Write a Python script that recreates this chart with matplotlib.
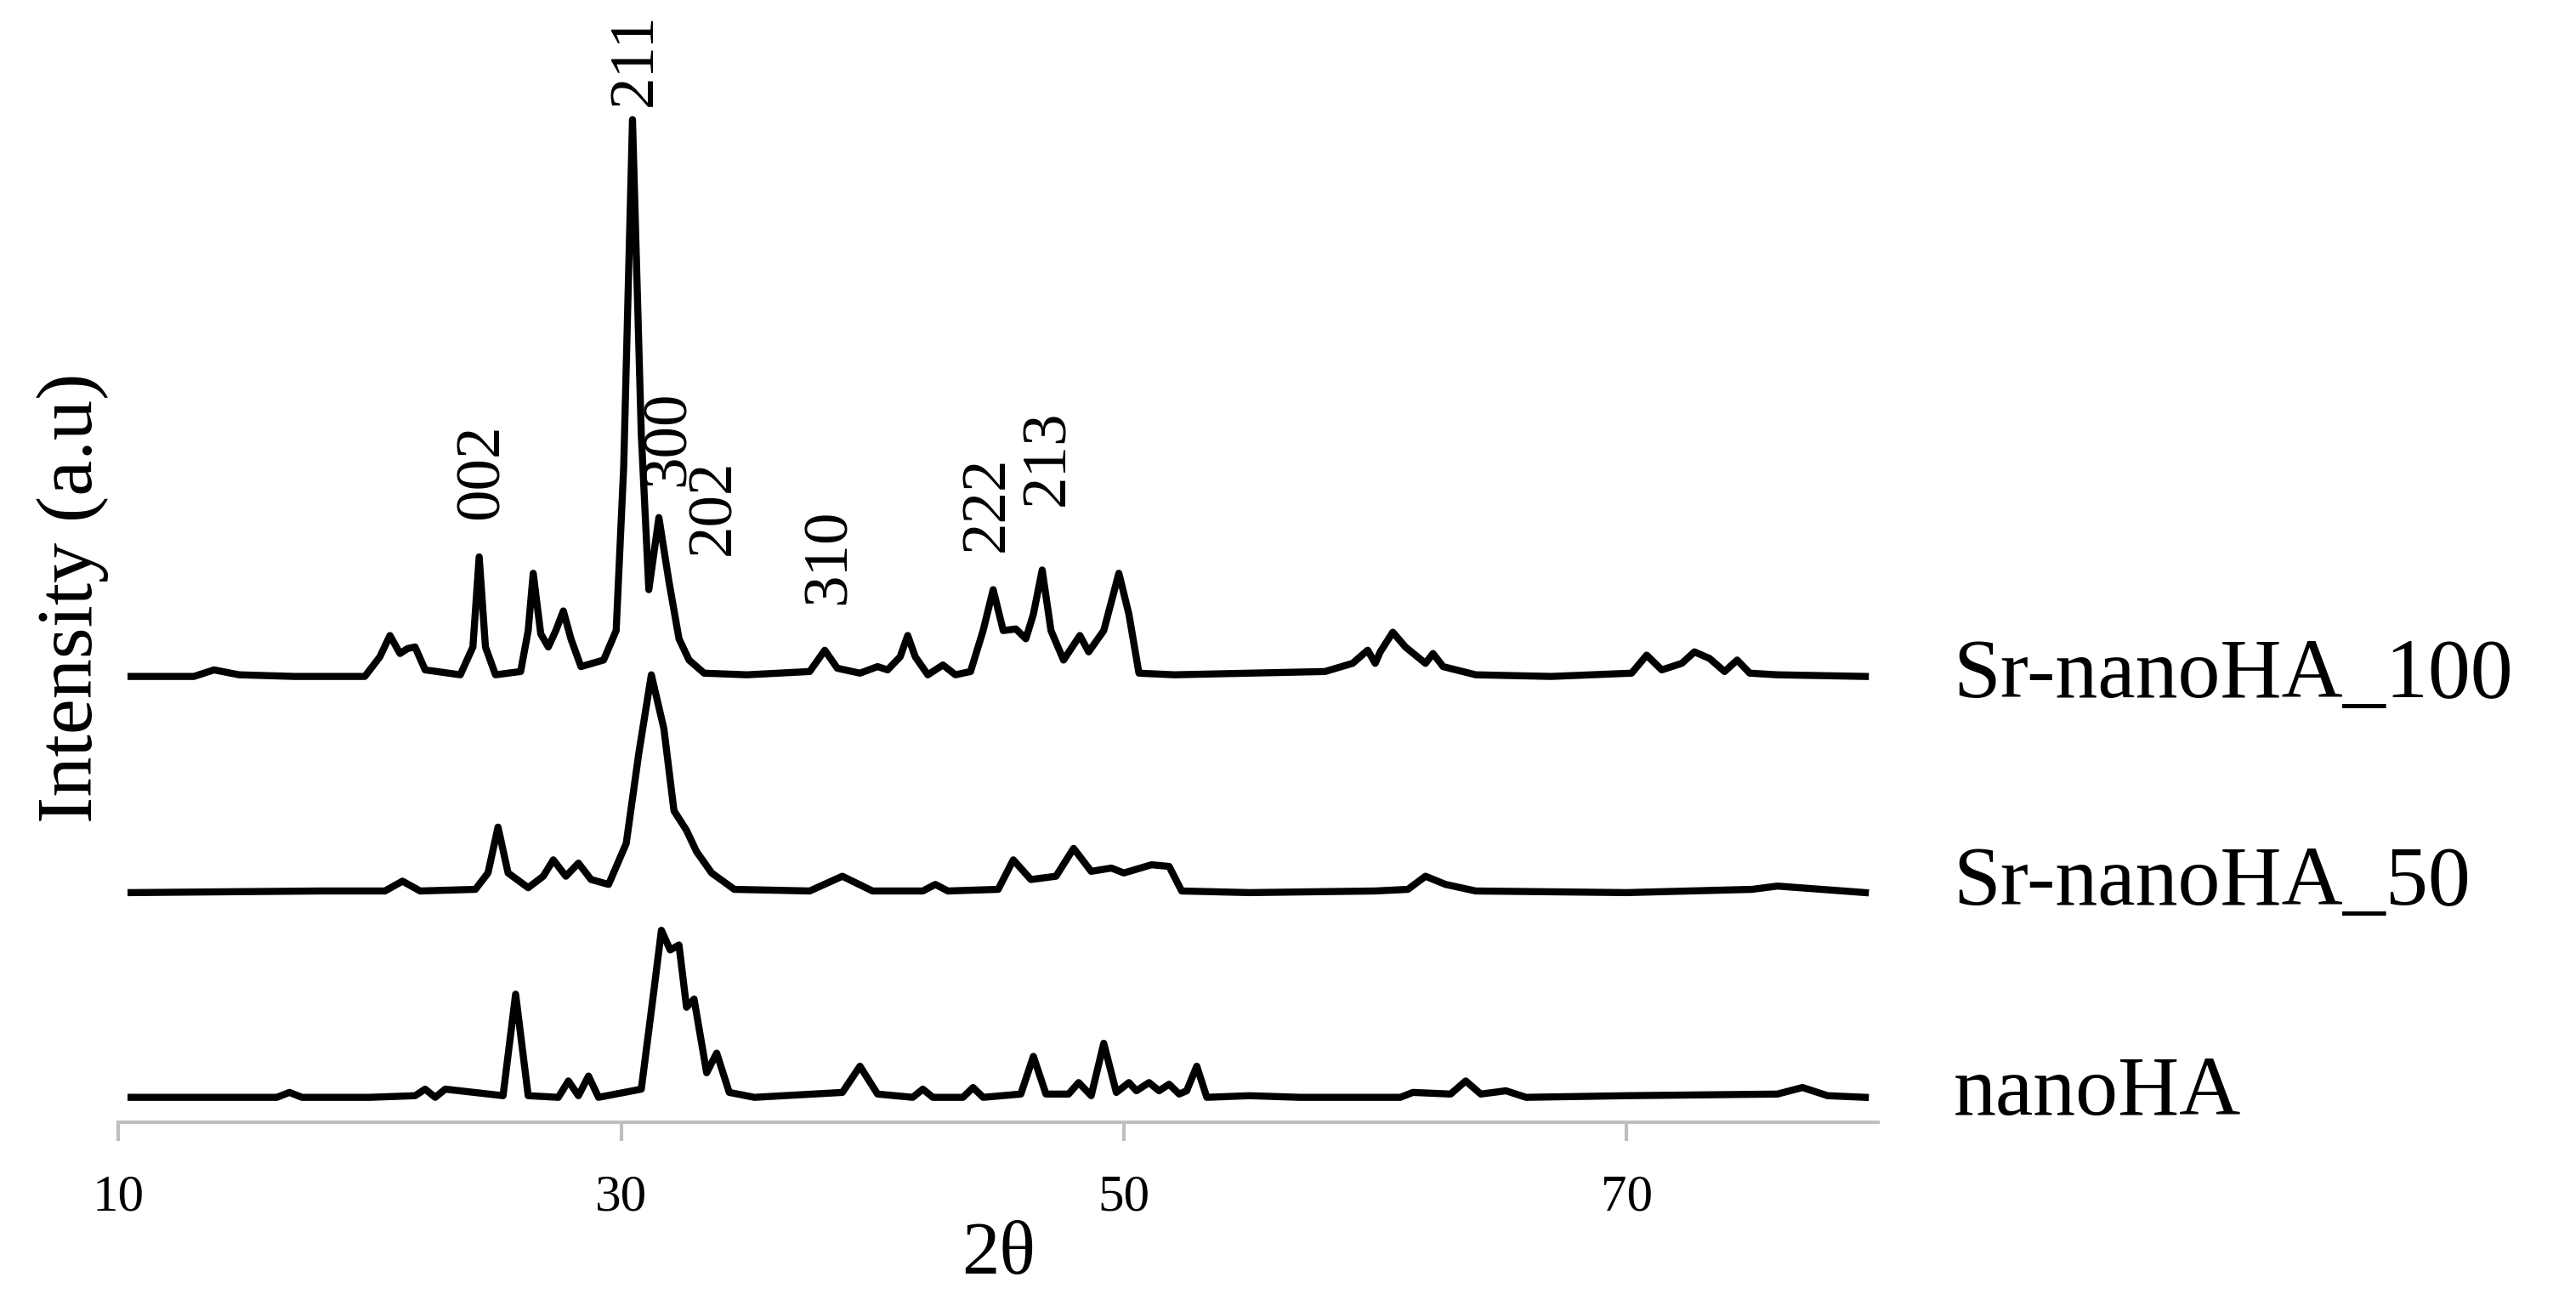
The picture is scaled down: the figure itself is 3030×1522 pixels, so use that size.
import matplotlib
matplotlib.use("Agg")
import matplotlib.pyplot as plt

# Sr-nanoHA_100 (2theta, intensity)
x100 = [10.5,13,13.8,14.8,17,19.8,20.4,20.8,21.2,21.5,21.8,22.2,23.6,24.1,24.35,24.6,25.0,26.0,26.3,26.5,26.8,27.1,27.4,27.7,28.0,28.4,29.3,29.8,30.1,30.45,30.8,31.1,31.5,31.9,32.3,32.7,33.3,35,37.5,38.1,38.6,39.5,40.2,40.6,41.1,41.4,41.7,42.2,42.8,43.3,43.9,44.4,44.8,45.2,45.7,46.1,46.4,46.75,47.1,47.6,48.25,48.6,49.2,49.8,50.2,50.6,52,55,58,59.1,59.7,60.0,60.2,60.7,61.2,62.0,62.3,62.7,64,67,70.2,70.8,71.4,72.2,72.7,73.3,73.9,74.4,74.9,76,79.5]
y100 = [272,272,276,273,272,272,284,297,286,289,290,276,273,290,345,290,273,275,300,335,298,290,300,312,295,278,282,300,400,612,420,325,369,330,295,282,274,273,275,288,277,274,278,276,284,297,284,273,279,273,275,300,325,300,301,295,310,337,300,282,297,287,300,335,310,274,273,274,275,280,288,280,287,299,290,280,286,278,273,272,274,285,276,280,287,283,275,282,274,273,272]

# Sr-nanoHA_50
x50 = [10.5,18,20.6,21.3,22,24.2,24.7,25.1,25.5,26.3,26.9,27.3,27.8,28.3,28.8,29.5,30.2,30.7,31.2,31.7,32.1,32.6,33,33.6,34.5,37.5,38.8,40,42,42.5,43,45,45.6,46.3,47.3,48,48.7,49.5,50,51.1,51.8,52.3,55,60,61.3,62,62.8,64,70,75,76,79.5]
y50 = [140,141,141,147,141,142,152,180,152,143,150,160,150,158,148,145,170,225,273,240,190,178,165,152,142,141,150,141,141,145,141,142,160,148,150,167,153,155,152,157,156,141,140,141,142,150,145,141,140,142,144,140]

# nanoHA
x0 = [10.5,16.3,16.8,17.3,20,21.8,22.2,22.6,23.0,25.3,25.8,26.3,27.5,27.9,28.3,28.7,29.1,30.8,31.3,31.6,31.95,32.3,32.6,32.9,33.4,33.8,34.3,35.3,38.8,39.5,40.2,41.6,42,42.4,43.6,44,44.4,45.9,46.4,46.9,47.8,48.2,48.7,49.2,49.7,50.2,50.5,51.0,51.4,51.8,52.2,52.5,52.9,53.3,55,57,61,61.5,63,63.6,64.2,65.2,66,70,76,77,78,79.5]
y0 = [15,15,18,15,15,16,20,15,20,16,78,16,15,25,16,28,15,20,80,117,105,108,70,75,30,42,18,15,18,34,17,15,20,15,15,21,15,17,40,17,17,24,16,48,18,24,19,24,19,23,17,19,34,15,16,15,15,18,17,25,17,19,15,16,17,21,16,15]

series_labels = ["Sr-nanoHA_100", "Sr-nanoHA_50", "nanoHA"]
series_label_y = [272, 145, 17]

peak_labels = ["211", "002", "300", "202", "310", "222", "213"]
peak_x = [30.6, 24.5, 31.9, 33.7, 38.3, 44.6, 47.0]
peak_y = [620, 368, 388, 346, 316, 348, 376]

xticks = [10, 30, 50, 70]

serif = ["Liberation Serif", "DejaVu Serif"]
plt.rcParams['font.family'] = serif

fig = plt.figure(figsize=(15.15, 7.61), dpi=200)
ax = fig.add_axes([0.046, 0.133, 0.683, 0.81])
for xs, ys in [(x100, y100), (x50, y50), (x0, y0)]:
    ax.plot(xs, ys, color="black", lw=3.0, solid_joinstyle="round")
ax.set_xlim(10, 80)
ax.set_ylim(0, 640)
for s in ["top", "right", "left"]:
    ax.spines[s].set_visible(False)
ax.spines["bottom"].set_color("#bfbfbf")
ax.spines["bottom"].set_linewidth(1.5)
ax.set_yticks([])
ax.set_xticks(xticks)
ax.tick_params(axis="x", direction="out", length=8, width=1.5, color="#bfbfbf", labelsize=22, pad=14)
ax.set_xlabel("2θ", fontsize=32, labelpad=0)
ax.set_ylabel("Intensity (a.u)", fontsize=34, labelpad=4)

for t, y in zip(series_labels, series_label_y):
    ax.text(83, y, t, fontsize=36, va="center", ha="left", clip_on=False)
for t, x, y in zip(peak_labels, peak_x, peak_y):
    ax.text(x, y, t, fontsize=27, rotation=90, ha="center", va="bottom", clip_on=False)

fig.savefig("out.png", dpi=200)
